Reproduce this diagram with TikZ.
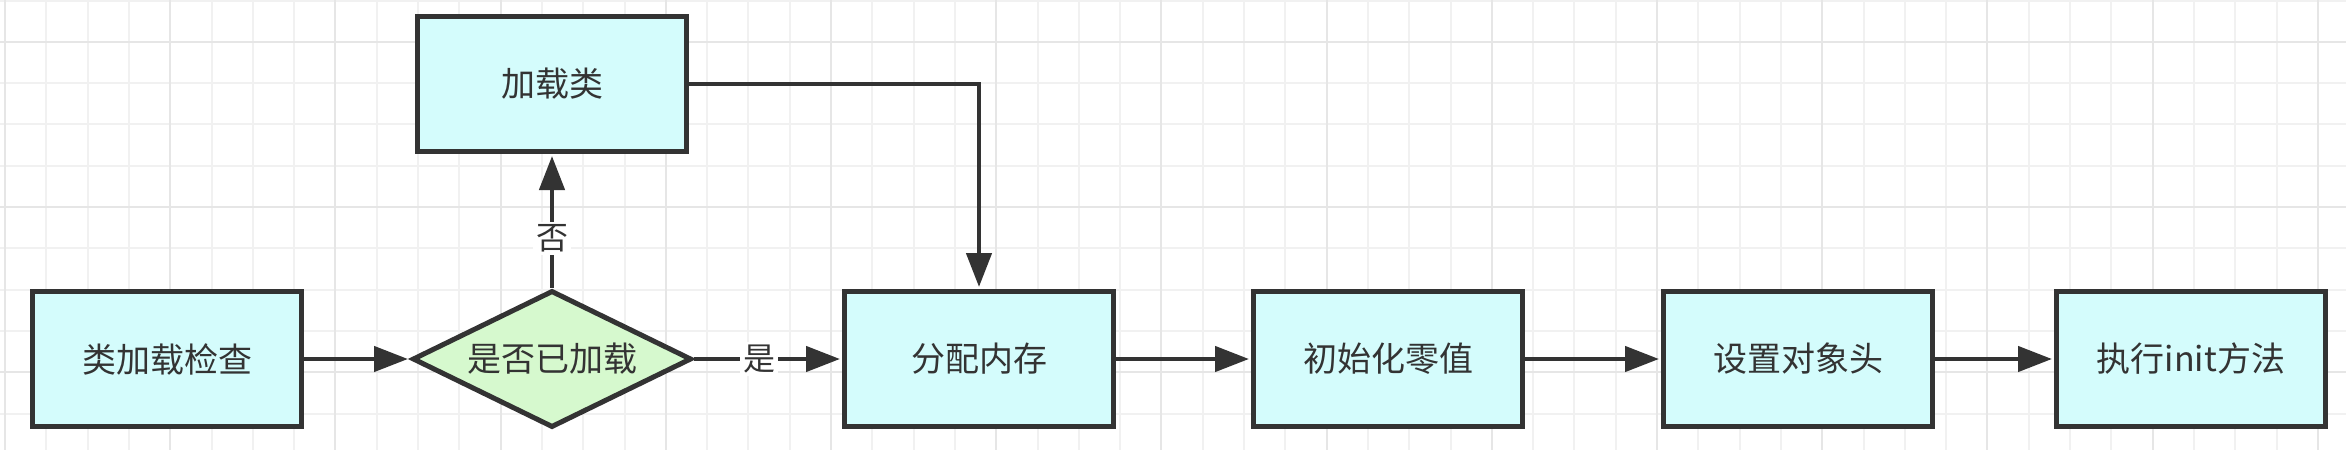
\documentclass[tikz,border=0pt]{standalone}
\usepackage{fontspec}
\newfontfamily\cjk{Noto Sans CJK SC}
\usetikzlibrary{shapes.geometric,arrows.meta}
\definecolor{boxfill}{RGB}{212,252,252}
\definecolor{diafill}{RGB}{214,249,206}
\definecolor{edge}{RGB}{51,51,51}
\definecolor{gridminor}{RGB}{241,241,241}
\definecolor{gridmajor}{RGB}{230,230,230}
\begin{document}
\begin{tikzpicture}[x=1pt,y=-1pt,
  proc/.style={draw=edge, line width=5pt, fill=boxfill, minimum width=269pt, minimum height=135pt, inner sep=0pt, font=\cjk\fontsize{34}{40}\selectfont, text=edge},
  dec/.style={diamond, aspect=2, draw=edge, line width=5pt, fill=diafill, minimum width=279pt, minimum height=137pt, inner sep=0pt, font=\cjk\fontsize{34}{40}\selectfont, text=edge},
  conn/.style={draw=edge, line width=4.5pt, -{Triangle[length=34pt,width=25pt]}, shorten >=2pt},
  lbl/.style={fill=white, inner sep=3pt, font=\cjk\fontsize{32}{36}\selectfont, text=edge},
  gminor/.style={draw=gridminor, line width=2pt},
  gmajor/.style={draw=gridmajor, line width=2pt}]
\path[use as bounding box, fill=white] (0,0) rectangle (2346,450);
\begin{scope}
\clip (0,0) rectangle (2346,450);
\foreach \k in {0,...,57}{\pgfmathsetmacro\xx{5+41.3*\k}\draw[gminor] (\xx,0) -- (\xx,450);}
\foreach \k in {0,...,10}{\pgfmathsetmacro\yy{0.5+41.3*\k}\draw[gminor] (0,\yy) -- (2346,\yy);}
\foreach \k in {0,4,...,56}{\pgfmathsetmacro\xx{5+41.3*\k}\draw[gmajor] (\xx,0) -- (\xx,450);}
\foreach \k in {1,5,9}{\pgfmathsetmacro\yy{0.5+41.3*\k}\draw[gmajor] (0,\yy) -- (2346,\yy);}
\end{scope}
\node[proc] (check) at (167,359) {类加载检查};
\node[dec] (loaded) at (552,359) {是否已加载};
\node[proc] (load) at (552,84) {加载类};
\node[proc] (alloc) at (979,359) {分配内存};
\node[proc] (zero) at (1388,359) {初始化零值};
\node[proc] (header) at (1798,359) {设置对象头};
\node[proc] (init) at (2191,359) {执行init方法};
\draw[conn] (check) -- (loaded);
\draw[conn] (loaded) -- node[lbl,pos=0.44] {是} (alloc);
\draw[conn] (loaded) -- node[lbl,pos=0.37] {否} (load);
\draw[conn] (load.east) -| (alloc.north);
\draw[conn] (alloc) -- (zero);
\draw[conn] (zero) -- (header);
\draw[conn] (header) -- (init);
\end{tikzpicture}
\end{document}
